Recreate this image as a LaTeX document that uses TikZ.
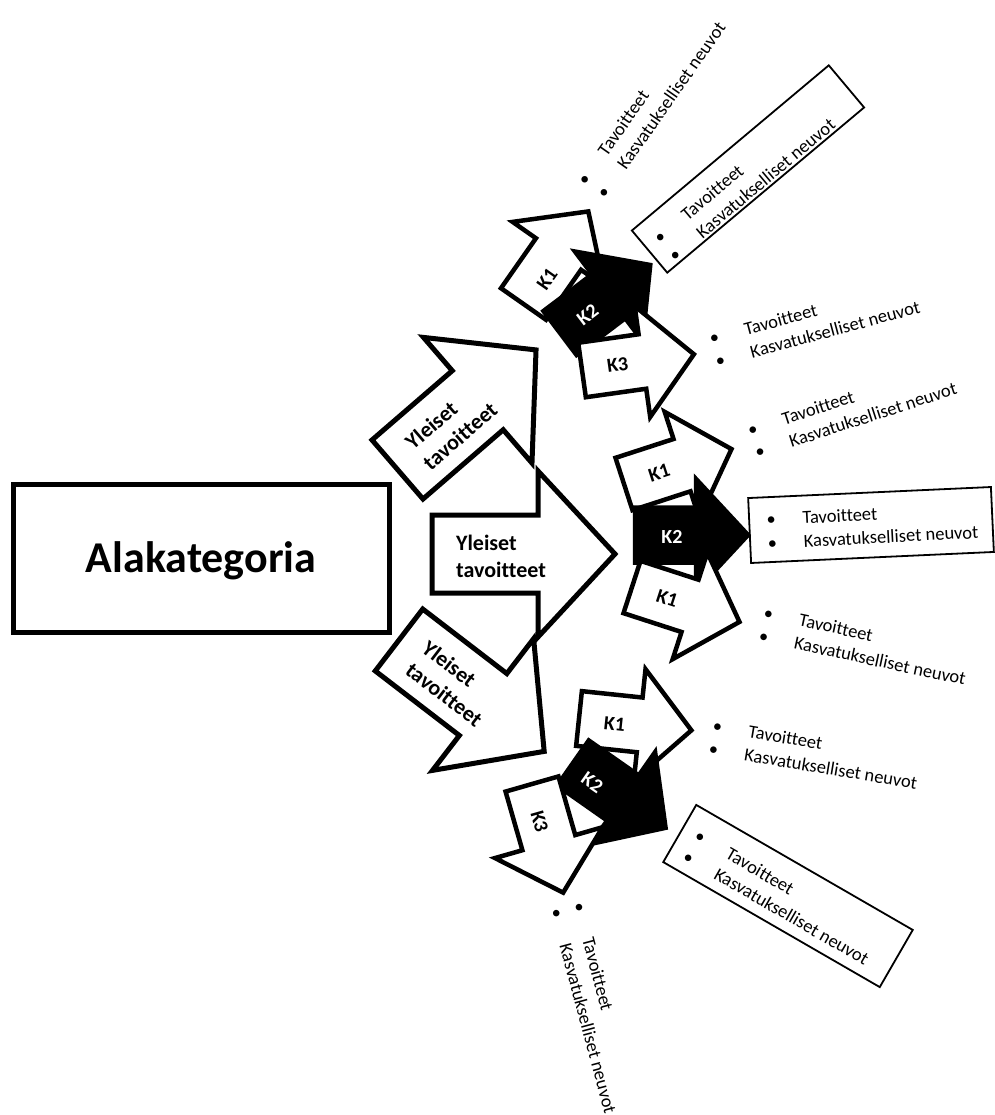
\documentclass[tikz,border=0pt]{standalone}
\usepackage{fontspec}
\setmainfont{Carlito}[Ligatures=NoCommon]
% block arrow outlines in local coordinates (tail at origin, pointing along +x)
\newcommand{\bigshape}[1]{\path[#1] (0,-39) -- (106,-39) -- (106,-83) -- (183,0) -- (106,83) -- (106,39) -- (0,39) -- cycle;}
\newcommand{\smallshape}[1]{\path[#1] (0,-27.5) -- (61,-27.5) -- (61,-56) -- (113,0) -- (61,56) -- (61,27.5) -- (0,27.5) -- cycle;}
% big arrow: x, y, angle, label name
\newcommand{\bigarrowat}[4]{%
  \begin{scope}[shift={(#1,#2)}, rotate=#3, transform shape]
    \bigshape{bigline}
    \node[biglabel] (#4) at (69,2) {Yleiset\\tavoitteet};
  \end{scope}}
% small arrow: x, y, angle, shape style, label style, label name, label position, label
\newcommand{\smallarrowat}[8]{%
  \begin{scope}[shift={(#1,#2)}, rotate=#3, transform shape]
    \smallshape{#4}
    \node[#5] (#6) at (#7) {#8};
  \end{scope}}
\newcommand{\twoitems}{\makebox[36pt][l]{\textbullet}Tavoitteet\\\makebox[36pt][l]{\textbullet}Kasvatukselliset neuvot}
\begin{document}
\begin{tikzpicture}[x=1pt, y=-1pt,
  bigline/.style={line width=5pt, draw=black, fill=white},
  whitearrow/.style={line width=4.5pt, draw=black, fill=white},
  blackarrow/.style={line width=4.5pt, draw=black, fill=black},
  biglabel/.style={font=\fontsize{22}{27}\selectfont\bfseries, align=left, inner sep=0pt},
  klabel/.style={font=\fontsize{20}{24}\selectfont\bfseries, inner sep=0pt},
  kwhite/.style={klabel, text=white},
  listtext/.style={font=\fontsize{18.5}{23.5}\selectfont, align=left, inner sep=0pt, anchor=west},
  listbox/.style={draw, line width=1.8pt, inner sep=0pt}
]
\useasboundingbox (0,0) rectangle (994,1115);

% main category
\node[draw, line width=5pt, minimum width=376pt, minimum height=148pt, inner sep=0pt] (alak) at (201.5,558.5) {};
\node[anchor=base, font=\fontsize{44}{50}\selectfont\bfseries, inner sep=0pt] (alaktext) at (201,572) {Alakategoria};

% three general-goal arrows
\bigarrowat{397.5}{469.5}{40.8}{ytup}
\bigarrowat{432}{554}{0}{ytmid}
\bigarrowat{399}{640}{-37.5}{ytlow}

% upper cluster
\smallarrowat{523.5}{304}{55}{whitearrow}{klabel}{a1}{34,5}{K1}
\smallarrowat{560}{333}{37}{blackarrow}{kwhite}{a2}{33,2}{K2}
\smallarrowat{582}{370}{8}{whitearrow}{klabel}{a3}{36,0}{K3}

% middle cluster
\smallarrowat{624}{484}{18}{whitearrow}{klabel}{b1}{37,0}{K1}
\smallarrowat{635}{535}{0}{blackarrow}{kwhite}{b2}{37,2}{K2}
\smallarrowat{632}{587}{-18}{whitearrow}{klabel}{b3}{37,0}{K1}

% lower cluster
\smallarrowat{579}{718.5}{-6}{whitearrow}{klabel}{c1}{36,2}{K1}
\smallarrowat{573}{763}{-35}{blackarrow}{kwhite}{c2}{27,5}{K2}
\smallarrowat{532}{784}{-74}{whitearrow}{klabel}{c3}{38,3}{K3}

% framed lists
\node[listbox, rotate=40, minimum width=257pt, minimum height=55pt] (boxa) at (748,169) {};
\node[listbox, rotate=2.6, minimum width=243pt, minimum height=65pt] (boxb) at (871,525) {};
\node[listbox, rotate=-30, minimum width=250pt, minimum height=66pt] (boxc) at (788,896) {};

% lists
\node[listtext, rotate=55] (la) at (590.7,189.8) {\twoitems};
\node[listtext, rotate=40] (lb) at (663.4,248.6) {\twoitems};
\node[listtext, rotate=15] (lc) at (712.6,350) {\twoitems};
\node[listtext, rotate=18] (ld) at (751.7,441.7) {\twoitems};
\node[listtext, rotate=3] (le) at (767,531.2) {\twoitems};
\node[listtext, rotate=-12] (lf) at (761.6,623.7) {\twoitems};
\node[listtext, rotate=-9.5] (lg) at (711,736.8) {\twoitems};
\node[listtext, rotate=-30] (lh) at (690.5,844.5) {\twoitems};
\node[listtext, rotate=-75] (li) at (567.5,906.1) {\twoitems};
\end{tikzpicture}
\end{document}
